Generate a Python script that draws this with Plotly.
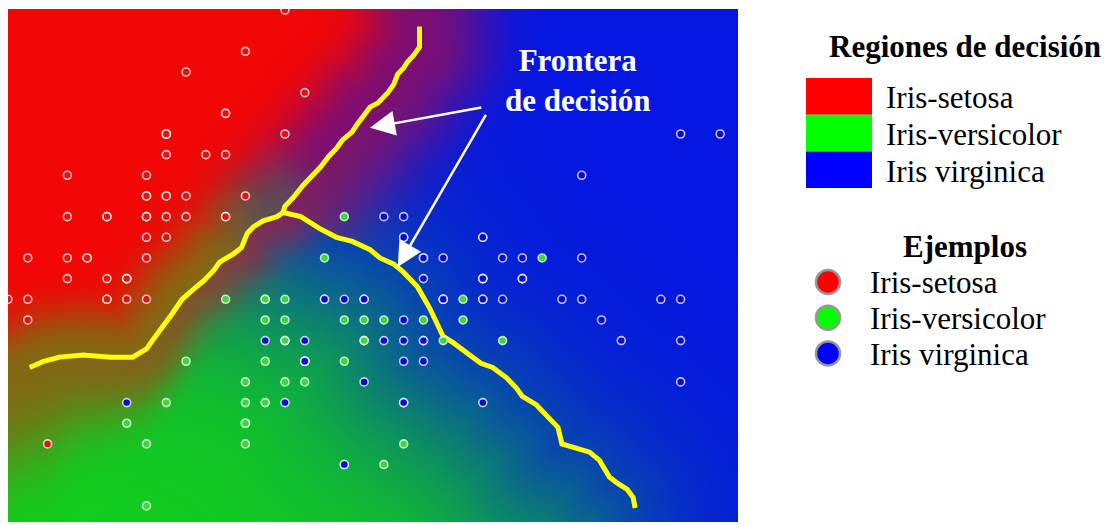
import numpy as np
import zlib, struct, base64
import plotly.graph_objects as go

# ---------------- data (Iris: sepal length / sepal width) ----------------
setosa_len = [5.1,4.9,4.7,4.6,5.0,5.4,4.6,5.0,4.4,4.9,5.4,4.8,4.8,4.3,5.8,5.7,5.4,5.1,5.7,5.1,
              5.4,5.1,4.6,5.1,4.8,5.0,5.0,5.2,5.2,4.7,4.8,5.4,5.2,5.5,4.9,5.0,5.5,4.9,4.4,5.1,
              5.0,4.5,4.4,5.0,5.1,4.8,5.1,4.6,5.3,5.0]
setosa_wid = [3.5,3.0,3.2,3.1,3.6,3.9,3.4,3.4,2.9,3.1,3.7,3.4,3.0,3.0,4.0,4.4,3.9,3.5,3.8,3.8,
              3.4,3.7,3.6,3.3,3.4,3.0,3.4,3.5,3.4,3.2,3.1,3.4,4.1,4.2,3.1,3.2,3.5,3.1,3.0,3.4,
              3.5,2.3,3.2,3.5,3.8,3.0,3.8,3.2,3.7,3.3]
versi_len = [7.0,6.4,6.9,5.5,6.5,5.7,6.3,4.9,6.6,5.2,5.0,5.9,6.0,6.1,5.6,6.7,5.6,5.8,6.2,5.6,
             5.9,6.1,6.3,6.1,6.4,6.6,6.8,6.7,6.0,5.7,5.5,5.5,5.8,6.0,5.4,6.0,6.7,6.3,5.6,5.5,
             5.5,6.1,5.8,5.0,5.6,5.7,5.7,6.2,5.1,5.7]
versi_wid = [3.2,3.2,3.1,2.3,2.8,2.8,3.3,2.4,2.9,2.7,2.0,3.0,2.2,2.9,2.9,3.1,3.0,2.7,2.2,2.5,
             3.2,2.8,2.5,2.8,2.9,3.0,2.8,3.0,2.9,2.6,2.4,2.4,2.7,2.7,3.0,3.4,3.1,2.3,3.0,2.5,
             2.6,3.0,2.6,2.3,2.7,3.0,2.9,2.9,2.5,2.8]
virg_len = [6.3,5.8,7.1,6.3,6.5,7.6,4.9,7.3,6.7,7.2,6.5,6.4,6.8,5.7,5.8,6.4,6.5,7.7,7.7,6.0,
            6.9,5.6,7.7,6.3,6.7,7.2,6.2,6.1,6.4,7.2,7.4,7.9,6.4,6.3,6.1,7.7,6.3,6.4,6.0,6.9,
            6.7,6.9,5.8,6.8,6.7,6.7,6.3,6.5,6.2,5.9]
virg_wid = [3.3,2.7,3.0,2.9,3.0,3.0,2.5,2.9,2.5,3.6,3.2,2.7,3.0,2.5,2.8,3.2,3.0,3.8,2.6,2.2,
            3.2,2.8,2.8,2.7,3.3,3.2,2.8,3.0,2.8,3.0,2.8,3.8,2.8,2.8,2.6,3.0,3.4,3.1,3.0,3.1,
            3.1,3.1,2.7,3.2,3.3,3.0,2.5,3.0,3.4,3.0]

# decision boundary branches, each starting at the junction
bnd_rb_x = [5.69,5.70,5.74,5.79,5.84,5.88,5.92,5.96,5.99,6.04,6.06,6.09,6.13,6.17,6.22,6.25,6.27,6.30,6.32,6.35,6.38,6.38]
bnd_rb_y = [3.42,3.45,3.49,3.55,3.60,3.64,3.69,3.73,3.77,3.81,3.84,3.88,3.93,3.95,4.00,4.04,4.09,4.12,4.15,4.18,4.22,4.32]
bnd_rg_x = [5.69,5.66,5.59,5.54,5.51,5.48,5.44,5.37,5.34,5.29,5.24,5.18,5.13,5.08,5.03,5.00,4.93,4.82,4.68,4.56,4.48,4.41]
bnd_rg_y = [3.42,3.40,3.38,3.35,3.32,3.25,3.22,3.18,3.14,3.09,3.05,3.00,2.93,2.86,2.80,2.76,2.72,2.72,2.73,2.72,2.70,2.67]
bnd_gb_x = [5.69,5.78,5.88,5.96,6.04,6.13,6.18,6.25,6.30,6.37,6.43,6.47,6.50,6.55,6.62,6.69,6.75,6.82,6.87,6.90,
            6.97,7.02,7.08,7.10,7.18,7.24,7.29,7.34,7.38,7.43,7.46,7.47]
bnd_gb_y = [3.42,3.40,3.34,3.30,3.28,3.24,3.20,3.17,3.13,3.06,2.96,2.88,2.82,2.79,2.74,2.69,2.67,2.62,2.57,2.53,
            2.49,2.44,2.38,2.30,2.28,2.26,2.22,2.14,2.11,2.08,2.04,1.99]

class_names = ["Iris-setosa", "Iris-versicolor", "Iris virginica"]

# ---------------- axes ----------------
X0, X1 = 4.30, 7.99
Y0, Y1 = 1.922, 4.405
W, H = 730, 513
SX, SY = W / (X1 - X0), H / (Y1 - Y0)

# ---------------- soft decision-region field ----------------
xs = X0 + (np.arange(W) + 0.5) / SX
ys = Y1 - (np.arange(H) + 0.5) / SY
GX, GY = np.meshgrid(xs, ys)
U, V = GX * SX, GY * SY


def extend(xl, yl):
    p = np.column_stack([xl, yl]).astype(float)
    d = p[-1] - p[-2]
    d = d / np.hypot(*d)
    return np.vstack([p, p[-1] + d * 10])


A = extend(bnd_rb_x, bnd_rb_y)
B = extend(bnd_rg_x, bnd_rg_y)
C = extend(bnd_gb_x, bnd_gb_y)


def inside(px_, py_, poly):
    res = np.zeros(px_.shape, bool)
    n = len(poly)
    for i in range(n):
        x1, y1 = poly[i]
        x2, y2 = poly[(i + 1) % n]
        if y1 == y2:
            continue
        cond = (y1 > py_) != (y2 > py_)
        xint = x1 + (py_ - y1) * (x2 - x1) / (y2 - y1)
        res ^= cond & (px_ < xint)
    return res


def dist(poly):
    p = poly * np.array([SX, SY])
    d = np.full(U.shape, np.inf)
    for (x1, y1), (x2, y2) in zip(p[:-1], p[1:]):
        dx, dy = x2 - x1, y2 - y1
        t = np.clip(((U - x1) * dx + (V - y1) * dy) / (dx * dx + dy * dy), 0, 1)
        d = np.minimum(d, np.hypot(U - x1 - t * dx, V - y1 - t * dy))
    return d


red_poly = np.vstack([B[::-1], A[1:], [[-40, 40]]])
green_poly = np.vstack([B[::-1], C[1:], [[-40, -40]]])
in_r = inside(GX, GY, red_poly)
in_g = inside(GX, GY, green_poly) & ~in_r
in_b = ~(in_r | in_g)
dA, dB, dC = dist(A), dist(B), dist(C)


def g(d, s):
    return np.exp(-d * d / (2 * s * s))


# red vs. the rest (red fades more slowly into the lower-left corner)
ux = (GX - X0) * SX
s_rg = 22 + 28 * np.clip((180 - ux) / 140, 0, 1)
w_r = np.where(in_r, 1.0, np.where(in_g, g(np.minimum(dA, dB), s_rg), g(np.minimum(dA, dB), 40)))
# split of the non-red share between versicolor and virginica (soft, shifted toward the green side)
sC = np.where(in_g, dC, -dC)
gfrac = 1.0 / (1.0 + np.exp(-(sC - 65.0) / 60.0))
w_g = np.where(in_r, g(dB, 28), gfrac)
w_b = np.where(in_r, g(dA, 32), 1.0 - gfrac)
tot = w_r + w_g + w_b
P = np.stack([w_r, w_g, w_b], -1) / tot[..., None]
cols = np.array([[243, 6, 6], [18, 206, 30], [5, 22, 226]], float)
img = np.clip(P @ cols, 0, 255).astype(np.uint8)


def to_png(a):
    h, w, _ = a.shape
    raw = b"".join(b"\x00" + a[i].tobytes() for i in range(h))

    def chunk(t, d):
        c = struct.pack(">I", len(d)) + t + d
        return c + struct.pack(">I", zlib.crc32(t + d) & 0xFFFFFFFF)

    return (b"\x89PNG\r\n\x1a\n" + chunk(b"IHDR", struct.pack(">IIBBBBB", w, h, 8, 2, 0, 0, 0))
            + chunk(b"IDAT", zlib.compress(raw, 9)) + chunk(b"IEND", b""))


src = "data:image/png;base64," + base64.b64encode(to_png(img)).decode()

# ---------------- figure ----------------
SERIF = "Liberation Serif, Times New Roman, serif"
fig = go.Figure()

for xl, yl in [(bnd_rb_x, bnd_rb_y), (bnd_rg_x, bnd_rg_y), (bnd_gb_x, bnd_gb_y)]:
    fig.add_trace(go.Scatter(x=xl, y=yl, mode="lines", line=dict(color="#FFFF00", width=5),
                             hoverinfo="skip", showlegend=False))

for (lx, ly), c, nm in zip([(setosa_len, setosa_wid), (versi_len, versi_wid), (virg_len, virg_wid)],
                           ["rgb(225,20,20)", "rgb(60,215,60)", "rgb(10,10,200)"], class_names):
    fig.add_trace(go.Scatter(x=lx, y=ly, mode="markers", name=nm, showlegend=False,
                             marker=dict(size=8, color=c, line=dict(color="rgba(255,255,255,0.75)", width=1.6))))

fig.add_layout_image(dict(source=src, xref="x", yref="y", x=X0, y=Y1, sizex=X1 - X0, sizey=Y1 - Y0,
                          xanchor="left", yanchor="top", sizing="stretch", layer="below"))

# page-pixel -> paper helpers (plot area spans page x 8..738, y 9..522)
L, T, PW, PH = 8, 9, 730, 513


def px(x):
    return (x - L) / PW


def py(y):
    return 1 - (y - T) / PH


shapes = []
for i, c in enumerate(["#FF0000", "#00FF00", "#0000FF"]):
    y0 = 78 + i * 36.7
    shapes.append(dict(type="rect", xref="paper", yref="paper", x0=px(806), x1=px(872),
                       y0=py(y0 + 36.7), y1=py(y0), fillcolor=c, line=dict(width=0)))
    cy = 282 + i * 35.7
    shapes.append(dict(type="circle", xref="paper", yref="paper", x0=px(816), x1=px(840),
                       y0=py(cy + 12), y1=py(cy - 12), fillcolor=c,
                       line=dict(color="rgb(150,150,150)", width=2.5)))

ann = []
ann.append(dict(text="<b>Regiones de decisión</b>", x=px(965), y=py(46), xref="paper", yref="paper",
                showarrow=False, xanchor="center", yanchor="middle", font=dict(family=SERIF, size=31, color="black")))
ann.append(dict(text="<b>Ejemplos</b>", x=px(965), y=py(246), xref="paper", yref="paper",
                showarrow=False, xanchor="center", yanchor="middle", font=dict(family=SERIF, size=31, color="black")))
for i, nm in enumerate(class_names):
    ann.append(dict(text=nm, x=px(884), y=py(97 + i * 37), xref="paper", yref="paper", showarrow=False,
                    xanchor="left", yanchor="middle", font=dict(family=SERIF, size=31, color="black")))
    ann.append(dict(text=nm, x=px(868), y=py(282 + i * 36), xref="paper", yref="paper", showarrow=False,
                    xanchor="left", yanchor="middle", font=dict(family=SERIF, size=31, color="black")))

ann.append(dict(text="<b>Frontera<br>de decisión</b>", x=7.18, y=4.06, xref="x", yref="y", showarrow=False,
                xanchor="center", yanchor="middle", font=dict(family=SERIF, size=31, color="white")))
for hx, hy, tx, ty in [(6.13, 3.83, 6.70, 3.93), (6.27, 3.156, 6.72, 3.90)]:
    ann.append(dict(text="", x=hx, y=hy, ax=tx, ay=ty, xref="x", yref="y", axref="x", ayref="y",
                    showarrow=True, arrowhead=2, arrowsize=2.0, arrowwidth=2.5, arrowcolor="white"))

# the page body has an 8px margin: the figure is sized/offset so the plot area lands at page (8,9)
fig.update_layout(
    width=1105, height=517, margin=dict(l=0, r=375, t=1, b=3),
    paper_bgcolor="white", plot_bgcolor="white",
    xaxis=dict(range=[X0, X1], visible=False, showgrid=False, zeroline=False, fixedrange=True),
    yaxis=dict(range=[Y0, Y1], visible=False, showgrid=False, zeroline=False, fixedrange=True),
    shapes=shapes, annotations=ann, showlegend=False,
)

fig.write_html("out.html")
